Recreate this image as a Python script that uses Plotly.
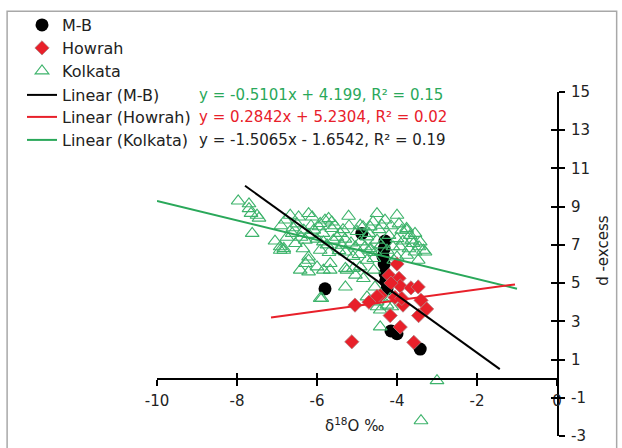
import plotly.graph_objects as go

# ---------------- data ----------------
mb_x = [-5.8, -4.88, -4.3, -4.32, -4.35, -4.32, -4.3, -4.28, -4.25, -4.15, -4.0, -3.42]
mb_y = [4.7, 7.6, 7.2, 6.8, 6.4, 6.0, 5.5, 5.1, 4.7, 2.5, 2.35, 1.55]

howrah_x = [-4.0, -4.2, -3.95, -3.92, -3.65, -3.47, -4.42, -4.5, -4.7, -5.05, -4.05,
            -3.85, -3.4, -3.26, -3.46, -4.17, -3.92, -3.58, -5.13, -3.88, -4.15]
howrah_y = [6.0, 5.4, 5.25, 4.85, 4.75, 4.8, 4.35, 4.3, 4.0, 3.85, 4.25,
            3.85, 4.1, 3.65, 3.3, 3.3, 2.7, 1.9, 1.93, 4.2, 5.0]

kolkata_pts = [
    (-7.97, 9.3), (-7.7, 9.15), (-7.7, 8.9), (-7.65, 8.65), (-7.5, 8.55), (-7.45, 8.4), (-7.62, 7.6),
    (-6.92, 6.72), (-6.83, 6.72), (-6.79, 8.3),
    (-6.67, 8.55), (-6.46, 8.46), (-6.21, 8.64), (-6.12, 8.46), (-5.92, 8.12), (-5.71, 8.38),
    (-5.63, 8.2), (-5.21, 8.5), (-6.83, 6.81), (-6.54, 7.07), (-6.29, 7.25), (-6.21, 6.2),
    (-5.92, 6.72), (-5.84, 7.16), (-5.59, 7.25), (-5.38, 6.98), (-5.29, 6.63), (-5.04, 6.9),
    (-6.33, 7.77), (-6.08, 7.77), (-5.63, 7.86), (-5.42, 7.6), (-6.92, 6.9), (-6.62, 7.6),
    (-4.5, 8.64), (-4.0, 8.55), (-4.92, 8.03), (-3.76, 7.77), (-3.63, 7.25), (-3.42, 7.16),
    (-3.34, 6.72), (-3.92, 6.9), (-4.0, 6.37), (-4.67, 6.72), (-4.75, 6.2), (-4.92, 5.85),
    (-5.29, 4.8), (-5.88, 4.2), (-6.21, 6.37), (-6.29, 6.03), (-6.0, 5.85), (-5.67, 6.03),
    (-5.25, 5.68), (-5.04, 5.42), (-4.42, 3.59), (-4.42, 2.71), (-4.5, 3.76),
    (-4.38, 8.03), (-4.67, 7.94), (-3.76, 7.86), (-3.88, 7.77), (-3.67, 7.5), (-4.0, 7.33),
    (-3.59, 7.07), (-4.5, 7.25), (-4.75, 7.42), (-4.92, 7.16), (-4.67, 6.81), (-4.25, 6.72),
    (-3.55, 6.63), (-3.3, 6.63), (-3.76, 6.46), (-4.08, 6.2), (-4.58, 6.29), (-3.47, 6.2),
    (-4.84, 5.24), (-4.75, 4.28), (-4.55, 4.8), (-4.5, 4.02), (-4.25, 3.85), (-4.13, 3.76),
    (-4.17, 4.2), (-4.58, 5.68),
    (-6.42, 5.68), (-6.21, 5.59), (-5.84, 5.68), (-5.67, 5.68), (-5.29, 5.77), (-5.09, 5.77), (-5.92, 4.2),
    (-6.9, 8.0), (-6.75, 7.4), (-6.6, 7.9), (-6.5, 8.1), (-6.4, 7.4), (-6.35, 6.8), (-6.2, 7.55),
    (-6.15, 8.0), (-6.0, 7.3), (-5.95, 7.95), (-5.85, 7.6), (-5.8, 8.3), (-5.75, 7.0), (-5.7, 6.6),
    (-5.55, 8.0), (-5.5, 7.4), (-5.45, 6.7), (-5.35, 7.8), (-5.3, 7.3), (-5.2, 8.0), (-5.15, 7.1),
    (-5.1, 6.4), (-5.0, 7.7), (-4.95, 6.5), (-4.85, 7.95), (-4.8, 6.9), (-4.7, 7.6), (-4.6, 8.2),
    (-4.55, 6.6), (-4.45, 7.8), (-4.4, 7.0), (-4.3, 8.3), (-4.2, 7.5), (-4.15, 8.0), (-4.1, 6.9),
    (-3.95, 8.1), (-3.85, 7.2), (-3.7, 6.8), (-3.55, 7.6), (-3.45, 6.9), (-7.05, 7.2),
    (-3.0, -0.1), (-3.4, -2.2),
]
kolkata_x = [p[0] for p in kolkata_pts]
kolkata_y = [p[1] for p in kolkata_pts]

# trend lines (from the equations on the chart)
mb_slope, mb_icpt, mb_xr = -1.5065, -1.6542, [-7.8, -1.43]
how_slope, how_icpt, how_xr = 0.2842, 5.2304, [-7.15, -1.05]
kol_slope, kol_icpt, kol_xr = -0.5101, 4.199, [-10.0, -1.0]

eq_texts = ["y = -0.5101x + 4.199, R² = 0.15",
            "y = 0.2842x + 5.2304, R² = 0.02",
            "y = -1.5065x - 1.6542, R² = 0.19"]

x_ticks = [-10, -8, -6, -4, -2, 0]
x_tick_labels = ["-10", "-8", "-6", "-4", "-2", "0"]
y_ticks = [-3, -1, 1, 3, 5, 7, 9, 11, 13, 15]
y_tick_labels = ["-3", "-1", "1", "3", "5", "7", "9", "11", "13", "15"]

# ---------------- style ----------------
BLACK = "#000000"
RED = "#e8202a"
GREEN = "#2aa85a"
GREEN_M = "#3db36b"
FONT = "DejaVu Sans"
W, H = 622, 448
L, R, T, B = 157.0, 557.3, 91.7, 436.0


def px_x(px):
    return (px - L) / (R - L)


def px_y(py):
    return (B - py) / (B - T)


fig = go.Figure()

fig.add_trace(go.Scatter(x=mb_x, y=mb_y, mode="markers", name="M-B",
                         marker=dict(symbol="circle", size=13, color=BLACK),
                         legend="legend"))
fig.add_trace(go.Scatter(x=kolkata_x, y=kolkata_y, mode="markers", name="Kolkata",
                         marker=dict(symbol="triangle-up-open", size=12, color=GREEN_M,
                                     line=dict(width=1.1, color=GREEN_M)),
                         legend="legend3"))
fig.add_trace(go.Scatter(x=howrah_x, y=howrah_y, mode="markers", name="Howrah",
                         marker=dict(symbol="diamond", size=11, color=RED,
                                     line=dict(width=0.8, color="#b08080")),
                         legend="legend2"))


def line_trace(xr, slope, icpt, color, name, leg):
    ys = [slope * v + icpt for v in xr]
    return go.Scatter(x=xr, y=ys, mode="lines", name=name,
                      line=dict(color=color, width=2), legend=leg)


fig.add_trace(line_trace(kol_xr, kol_slope, kol_icpt, GREEN, "Linear (Kolkata)", "legend6"))
fig.add_trace(line_trace(how_xr, how_slope, how_icpt, RED, "Linear (Howrah)", "legend5"))
fig.add_trace(line_trace(mb_xr, mb_slope, mb_icpt, BLACK, "Linear (M-B)", "legend4"))

# helper traces for crossing ticks
fig.add_trace(go.Scatter(x=[None], y=[None], xaxis="x2", yaxis="y", showlegend=False))
fig.add_trace(go.Scatter(x=[None], y=[None], xaxis="x", yaxis="y2", showlegend=False))

axis_common = dict(showgrid=False, zeroline=False, tickcolor=BLACK, tickwidth=2, ticklen=6,
                   tickfont=dict(family=FONT, size=15, color="#222"))

fig.update_layout(
    width=W, height=H,
    margin=dict(l=L, r=W - R, t=T, b=H - B, autoexpand=False),
    paper_bgcolor="white", plot_bgcolor="white",
    font=dict(family=FONT, color="#222"),
    xaxis=dict(range=[-10, 0], tickvals=x_ticks, ticktext=x_tick_labels, ticks="outside",
               showline=True, linecolor=BLACK, linewidth=2, anchor="free", position=1 / 6,
               ticklabelstandoff=2, **axis_common),
    xaxis2=dict(range=[-10, 0], matches="x", overlaying="x", tickvals=x_ticks, ticks="inside",
                showticklabels=False, showline=False, anchor="free", position=1 / 6,
                **axis_common),
    yaxis=dict(range=[-3, 15], tickvals=y_ticks, ticktext=y_tick_labels, ticks="outside",
               side="right", anchor="x", showline=True, linecolor=BLACK, linewidth=2,
               ticklabelstandoff=3, **axis_common),
    yaxis2=dict(range=[-3, 15], matches="y", overlaying="y", tickvals=y_ticks, ticks="inside",
                side="right", anchor="x", showticklabels=False, showline=False, **axis_common),
    showlegend=True,
)

# legends, one per row
rows_y = [25, 48, 71, 95, 117, 140]
leg_names = ["legend", "legend2", "legend3", "legend4", "legend5", "legend6"]
for nm, ry in zip(leg_names, rows_y):
    fig.update_layout({nm: dict(x=22 / W, y=1 - ry / H, xref="container", yref="container",
                                xanchor="left", yanchor="middle", bgcolor="rgba(0,0,0,0)",
                                font=dict(family=FONT, size=16, color="#222"))})

# equation labels
eq_colors = [GREEN, RED, "#222"]
for txt, col, ry in zip(eq_texts, eq_colors, rows_y[3:]):
    fig.add_annotation(text=txt, x=px_x(197), y=px_y(ry), xref="paper", yref="paper",
                       xanchor="left", yanchor="middle", showarrow=False,
                       font=dict(family=FONT, size=15, color=col))

# axis titles
fig.add_annotation(text="δ<sup>18</sup>O ‰", x=px_x(355), y=px_y(425), xref="paper", yref="paper",
                   xanchor="center", yanchor="middle", showarrow=False,
                   font=dict(family=FONT, size=15, color="#222"))
fig.add_annotation(text="d -excess", x=px_x(603), y=px_y(250), xref="paper", yref="paper",
                   xanchor="center", yanchor="middle", showarrow=False, textangle=-90,
                   font=dict(family=FONT, size=15, color="#222"))

# outer frame
fig.add_shape(type="rect", xref="paper", yref="paper",
              x0=px_x(7), x1=px_x(617), y0=px_y(470), y1=px_y(11),
              line=dict(color="#a8a8a8", width=1.5), fillcolor="rgba(0,0,0,0)", layer="below")

fig.write_html("out.html", config={"displayModeBar": False},
               post_script="document.body.style.margin='0px';document.body.style.overflow='hidden';")
